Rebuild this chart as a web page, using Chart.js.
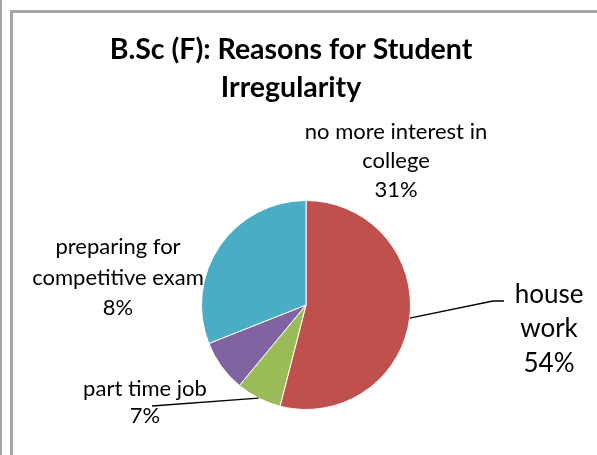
<!DOCTYPE html>
<html>
<head>
<meta charset="utf-8">
<script src="https://cdn.jsdelivr.net/npm/chart.js@4"></script>
<style>
  html, body { margin: 0; padding: 0; background: #fff; }
  #wrap { position: relative; width: 597px; height: 455px; overflow: hidden; }
  .edge { position: absolute; background: #a6a6a6; }
  canvas { position: absolute; left: 0; top: 0; }
</style>
</head>
<body>
<div id="wrap">
  <div class="edge" style="left:0;top:0;width:2px;height:455px;"></div>
  <div class="edge" style="left:10px;top:10px;width:3px;height:445px;"></div>
  <div class="edge" style="left:10px;top:10px;width:587px;height:3px;"></div>
  <canvas id="pieChart" width="597" height="455"></canvas>
</div>
<script>
// data
const reasons = ['house work', 'part time job', 'preparing for competitive exam', 'no more interest in college'];
const shares = [54, 7, 8, 31];
const sliceColors = ['#C0504D', '#9BBB59', '#8064A2', '#4BACC6'];

// label lines as they are wrapped in the picture
const labelLines = [
    ['house', 'work', '54%'],
    ['part time job', '7%'],
    ['preparing for', 'competitive exam', '8%'],
    ['no more interest in', 'college', '31%']
];

const FONT = 'Lato, "Liberation Sans", sans-serif';

const labelPlugin = {
    id: 'labelPlugin',
    afterDraw(chart) {
        const ctx = chart.ctx;
        const arcs = chart.getDatasetMeta(0).data;
        ctx.save();
        ctx.fillStyle = '#000';
        ctx.textAlign = 'center';
        ctx.textBaseline = 'middle';

        // title
        ctx.font = 'bold 28.5px ' + FONT;
        ctx.fillText('B.Sc (F): Reasons for Student', 291, 50);
        ctx.fillText('Irregularity', 291, 88);

        // edge point of each slice at its middle angle
        const edge = i => {
            const a = arcs[i];
            const mid = (a.startAngle + a.endAngle) / 2;
            return [a.x + Math.cos(mid) * a.outerRadius, a.y + Math.sin(mid) * a.outerRadius];
        };

        // leader lines
        ctx.strokeStyle = '#000';
        ctx.lineWidth = 1.3;
        let p = edge(0);
        ctx.beginPath();
        ctx.moveTo(p[0], p[1]);
        ctx.lineTo(493, 301);
        ctx.lineTo(504, 301);
        ctx.stroke();
        p = edge(1);
        ctx.beginPath();
        ctx.moveTo(p[0], p[1]);
        ctx.lineTo(152, 406);
        ctx.stroke();

        // slice labels
        const place = [
            { x: 549, y: [295, 329, 364], size: 26 },
            { x: 145, y: [389, 416], size: 22 },
            { x: 118, y: [247, 278, 308], size: 22 },
            { x: 396, y: [132, 161, 190], size: 22 }
        ];
        place.forEach((pl, i) => {
            ctx.font = pl.size + 'px ' + FONT;
            labelLines[i].forEach((line, j) => ctx.fillText(line, pl.x, pl.y[j]));
        });
        ctx.restore();
    }
};

new Chart(document.getElementById('pieChart').getContext('2d'), {
    type: 'pie',
    data: {
        labels: reasons,
        datasets: [{
            data: shares,
            backgroundColor: sliceColors,
            borderColor: '#ffffff',
            borderWidth: 1
        }]
    },
    options: {
        responsive: false,
        animation: false,
        layout: { padding: { top: 200, bottom: 45, left: 201, right: 186 } },
        plugins: {
            legend: { display: false },
            tooltip: { enabled: false },
            title: { display: false }
        }
    },
    plugins: [labelPlugin]
});
</script>
</body>
</html>
